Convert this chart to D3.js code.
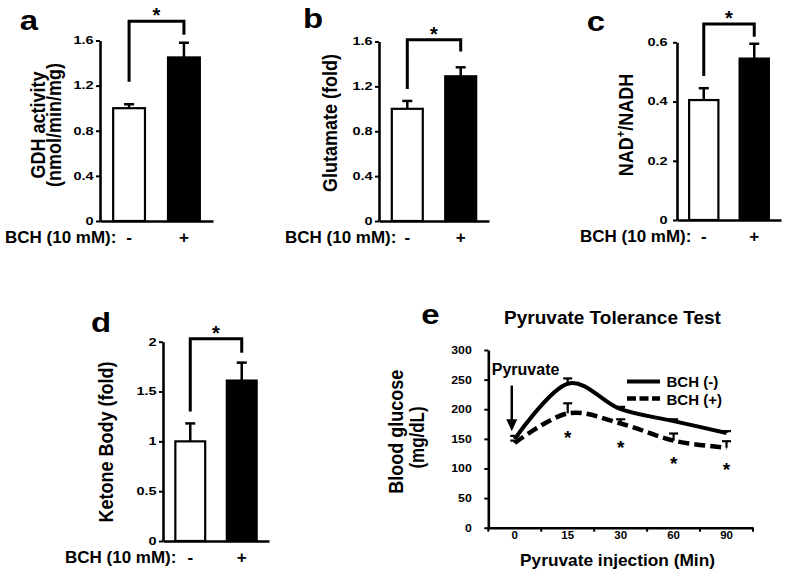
<!DOCTYPE html>
<html><head><meta charset="utf-8">
<script src="https://cdn.jsdelivr.net/npm/d3@7"></script>
<style>
body{margin:0;background:#fff}
svg{display:block}
text{font-family:"Liberation Sans",Arial,Helvetica,sans-serif;font-weight:bold;fill:#000}
</style>
</head><body>
<svg id="chart" width="787" height="576"></svg>
<script>
// ---------- data ----------
const groups = ["-", "+"];
const gdhValues = [1.00, 1.45];
const gdhErrors = [0.035, 0.13];
const gdhTicks = [0, 0.4, 0.8, 1.2, 1.6];

const gluValues = [1.00, 1.29];
const gluErrors = [0.07, 0.08];
const gluTicks = [0, 0.4, 0.8, 1.2, 1.6];

const nadValues = [0.405, 0.545];
const nadErrors = [0.04, 0.05];
const nadTicks = [0, 0.2, 0.4, 0.6];

const ketValues = [1.00, 1.61];
const ketErrors = [0.18, 0.18];
const ketTicks = [0, 0.5, 1, 1.5, 2];

const pttTimes = ["0", "15", "30", "60", "90"];
const bchMinus = [150, 243, 200, 180, 160];
const bchMinusErr = [5, 9, 4, 3, 3];
const bchPlus = [143, 193, 176, 147, 135];
const bchPlusErr = [4, 17, 7, 12, 11];
const pttTicks = [0, 50, 100, 150, 200, 250, 300];
const starTimes = ["15", "30", "60", "90"];
const starLevels = [160, 143, 116, 106];

const svg = d3.select("#chart");
svg.append("rect").attr("width", 787).attr("height", 576).attr("fill", "#fff");

function scaleTickText(g, fs, sx, off) {
  g.selectAll(".tick text")
    .attr("font-size", fs)
    .attr("transform", `scale(${sx},1)`)
    .attr("x", -off / sx);
}

function letter(t, cx, baseline) {
  svg.append("g").attr("transform", `translate(${cx},${baseline})`)
    .append("text").attr("text-anchor", "middle").attr("font-size", 27)
    .attr("transform", "scale(1.22,1)").text(t);
}

function vTitle(x, y, fs, sx) {
  return svg.append("text").attr("transform", `translate(${x},${y}) scale(${sx},1) rotate(-90)`)
    .attr("text-anchor", "middle").attr("font-size", fs);
}

function barPanel(o) {
  const y = d3.scaleLinear().domain([0, o.max]).range([o.yb, o.yt]);
  const x = d3.scaleBand().domain(groups).range([o.x0, o.x1]).paddingInner(0.42).paddingOuter(0.24);
  const g = svg.append("g");
  // bars
  g.selectAll("rect.bar").data(o.values).join("rect")
    .attr("x", (d, i) => x(groups[i])).attr("width", x.bandwidth())
    .attr("y", d => y(d)).attr("height", d => y(0) - y(d))
    .attr("fill", (d, i) => i === 0 ? "#fff" : "#000")
    .attr("stroke", "#000").attr("stroke-width", 2.2);
  // error bars
  o.values.forEach((v, i) => {
    const cx = x(groups[i]) + x.bandwidth() / 2;
    g.append("line").attr("x1", cx).attr("x2", cx).attr("y1", y(v)).attr("y2", y(v + o.errors[i]))
      .attr("stroke", "#000").attr("stroke-width", 2.5);
    g.append("line").attr("x1", cx - 5).attr("x2", cx + 5).attr("y1", y(v + o.errors[i])).attr("y2", y(v + o.errors[i]))
      .attr("stroke", "#000").attr("stroke-width", 2.5);
  });
  // y axis
  const ya = g.append("g").attr("transform", `translate(${o.x0},0)`)
    .call(d3.axisLeft(y).tickValues(o.ticks).tickFormat(d => String(d)).tickSizeInner(4).tickSizeOuter(0));
  ya.select(".domain").attr("stroke-width", 2.6);
  ya.selectAll(".tick line").attr("stroke-width", 2);
  scaleTickText(ya, 10.5, 1.38, o.tickOff);
  // x axis
  const xa = g.append("g").attr("transform", `translate(0,${o.yb})`)
    .call(d3.axisBottom(x).tickSize(0).tickPadding(9.5));
  xa.select(".domain").attr("stroke-width", 2.6);
  xa.selectAll(".tick text").attr("font-size", 17);
  g.append("text").attr("x", o.bchX).attr("y", o.yb + 21.5).attr("font-size", 17).text("BCH (10 mM):");
  // bracket
  const c0 = x(groups[0]) + x.bandwidth() / 2, c1 = x(groups[1]) + x.bandwidth() / 2;
  g.append("path")
    .attr("d", `M${c0},${y(o.br[1])}V${y(o.br[0])}H${c1}V${y(o.br[2])}`)
    .attr("fill", "none").attr("stroke", "#000").attr("stroke-width", 3);
  g.append("text").attr("x", (c0 + c1) / 2).attr("y", y(o.br[0]) - 10.5 + 11.6)
    .attr("text-anchor", "middle").attr("font-size", 20).text("*");
  // y title
  o.title.forEach((line, k) => {
    const t = vTitle(o.titleX[k], o.titleY, 18, 1.12);
    if (Array.isArray(line)) {
      t.append("tspan").text(line[0]);
      t.append("tspan").attr("font-size", 11).attr("dy", -7).text(line[1]);
      t.append("tspan").attr("dy", 7).text(line[2]);
    } else t.text(line);
  });
}

// panel a
barPanel({x0: 100, x1: 213, yb: 221, yt: 40.5, max: 1.6, values: gdhValues, errors: gdhErrors,
  ticks: gdhTicks, tickOff: 6.5, bchX: 5, br: [1.77, 1.235, 1.65],
  title: ["GDH activity", "(nmol/min/mg)"], titleX: [45, 61], titleY: 125});
letter("a", 29, 30);

// panel b
barPanel({x0: 379, x1: 489, yb: 221, yt: 41.5, max: 1.6, values: gluValues, errors: gluErrors,
  ticks: gluTicks, tickOff: 6.5, bchX: 285, br: [1.615, 1.177, 1.51],
  title: ["Glutamate (fold)"], titleX: [337], titleY: 123});
letter("b", 313, 27.5);

// panel c
barPanel({x0: 677, x1: 781, yb: 220, yt: 42.3, max: 0.6, values: nadValues, errors: nadErrors,
  ticks: nadTicks, tickOff: 9.5, bchX: 580, br: [0.662, 0.486, 0.619],
  title: [["NAD", "+", "/NADH"]], titleX: [633], titleY: 125});
letter("c", 596, 30.5);

// panel d
barPanel({x0: 163, x1: 269, yb: 541, yt: 341.7, max: 2, values: ketValues, errors: ketErrors,
  ticks: ketTicks, tickOff: 6.5, bchX: 65, br: [2.03, 1.30, 1.89],
  title: ["Ketone Body (fold)"], titleX: [113], titleY: 442});
letter("d", 101, 331.5);

// ---------- panel e ----------
(function () {
  const x0 = 488.3, x1 = 753, yb = 527.7, yt = 350;
  const y = d3.scaleLinear().domain([0, 300]).range([yb, yt]);
  const x = d3.scaleBand().domain(pttTimes).range([x0, x1]);
  const cx = t => x(t) + x.bandwidth() / 2;
  const g = svg.append("g");

  const ya = g.append("g").attr("transform", `translate(${x0},0)`)
    .call(d3.axisLeft(y).tickValues(pttTicks).tickSizeInner(4).tickSizeOuter(0));
  ya.select(".domain").attr("stroke-width", 2.6);
  ya.selectAll(".tick line").attr("stroke-width", 2);
  scaleTickText(ya, 11, 1.12, 16.5);

  const xa = g.append("g").attr("transform", `translate(0,${yb})`)
    .call(d3.axisBottom(x).tickSize(0).tickPadding(3.5));
  xa.select(".domain").attr("stroke-width", 2.6);
  xa.selectAll(".tick text").attr("font-size", 11.5);
  const bounds = pttTimes.map(t => x(t)).concat([x.range()[1]]);
  g.selectAll("line.xt").data(bounds).join("line")
    .attr("x1", d => d).attr("x2", d => d).attr("y1", yb).attr("y2", yb + 4)
    .attr("stroke", "#000").attr("stroke-width", 2);

  const line = d3.line().x((d, i) => cx(pttTimes[i])).y(d => y(d)).curve(d3.curveCardinal.tension(0));
  // error bars
  function errs(vals, errsArr) {
    vals.forEach((v, i) => {
      const c = cx(pttTimes[i]);
      g.append("line").attr("x1", c).attr("x2", c).attr("y1", y(v)).attr("y2", y(v + errsArr[i]))
        .attr("stroke", "#000").attr("stroke-width", 2.2);
      g.append("line").attr("x1", c - 4.5).attr("x2", c + 4.5).attr("y1", y(v + errsArr[i])).attr("y2", y(v + errsArr[i]))
        .attr("stroke", "#000").attr("stroke-width", 2.2);
    });
  }
  errs(bchMinus, bchMinusErr);
  errs(bchPlus, bchPlusErr);
  g.append("path").attr("d", line(bchMinus)).attr("fill", "none").attr("stroke", "#000").attr("stroke-width", 4);
  g.append("path").attr("d", line(bchPlus)).attr("fill", "none").attr("stroke", "#000").attr("stroke-width", 4.5)
    .attr("stroke-dasharray", "11,5");

  // stars
  g.selectAll("text.star").data(starTimes).join("text")
    .attr("x", d => cx(d)).attr("y", (d, i) => y(starLevels[i]) + 11)
    .attr("text-anchor", "middle").attr("font-size", 19).text("*");

  // arrow + label
  const ax = cx("0") - 3;
  g.append("line").attr("x1", ax).attr("x2", ax).attr("y1", y(240)).attr("y2", y(178))
    .attr("stroke", "#000").attr("stroke-width", 2.5);
  g.append("path").attr("d", `M${ax - 5.5},${y(183)}L${ax + 5.5},${y(183)}L${ax},${y(163)}Z`).attr("fill", "#000");
  g.append("text").attr("x", x0 + 3.5).attr("y", y(258)).attr("font-size", 16).text("Pyruvate");

  // legend
  g.append("line").attr("x1", 627).attr("x2", 660).attr("y1", 381.5).attr("y2", 381.5).attr("stroke", "#000").attr("stroke-width", 4);
  g.append("line").attr("x1", 627).attr("x2", 660).attr("y1", 398.5).attr("y2", 398.5).attr("stroke", "#000").attr("stroke-width", 4.5)
    .attr("stroke-dasharray", "9,3.5");
  g.append("text").attr("x", 666.5).attr("y", 386.5).attr("font-size", 15).text("BCH (-)");
  g.append("text").attr("x", 666.5).attr("y", 404.5).attr("font-size", 15).text("BCH (+)");

  // titles
  g.append("text").attr("x", 612.5).attr("y", 323.5).attr("text-anchor", "middle").attr("font-size", 19).text("Pyruvate Tolerance Test");
  g.append("text").attr("x", 617.5).attr("y", 566).attr("text-anchor", "middle").attr("font-size", 17.3).text("Pyruvate injection (Min)");
  vTitle(403, 431.7, 18, 1.15).text("Blood glucose");
  vTitle(424, 437.5, 17, 1.15).text("(mg/dL)");
})();
letter("e", 430.5, 323.5);
</script>
</body></html>
